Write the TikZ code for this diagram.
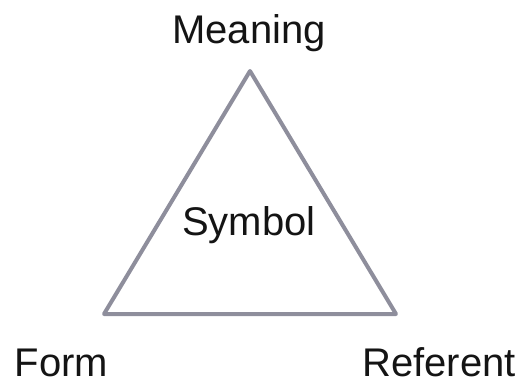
\documentclass[tikz,border=0pt]{standalone}
\usepackage{fontspec}
\setmainfont{Liberation Sans}
\definecolor{edgegray}{RGB}{142,142,156}
\definecolor{txt}{RGB}{20,20,20}
\begin{document}
\begin{tikzpicture}[x=1pt,y=-1pt,
  lbl/.style={anchor=base,inner sep=0pt,font=\fontsize{40}{48}\selectfont,text=txt},
  tri/.style={draw=edgegray,line width=4pt,line join=round}]
\useasboundingbox (0,0) rectangle (519,381);
\coordinate (top) at (250,71);
\coordinate (bl) at (104,314);
\coordinate (br) at (396,314);
\draw[tri] (top) -- (bl) -- (br) -- cycle;
\node[lbl] (meaning) at (249,43) {Meaning};
\node[lbl] (symbol) at (249,235) {Symbol};
\node[lbl] (form) at (61.5,376) {Form};
\node[lbl] (referent) at (439,376) {Referent};
\end{tikzpicture}
\end{document}
